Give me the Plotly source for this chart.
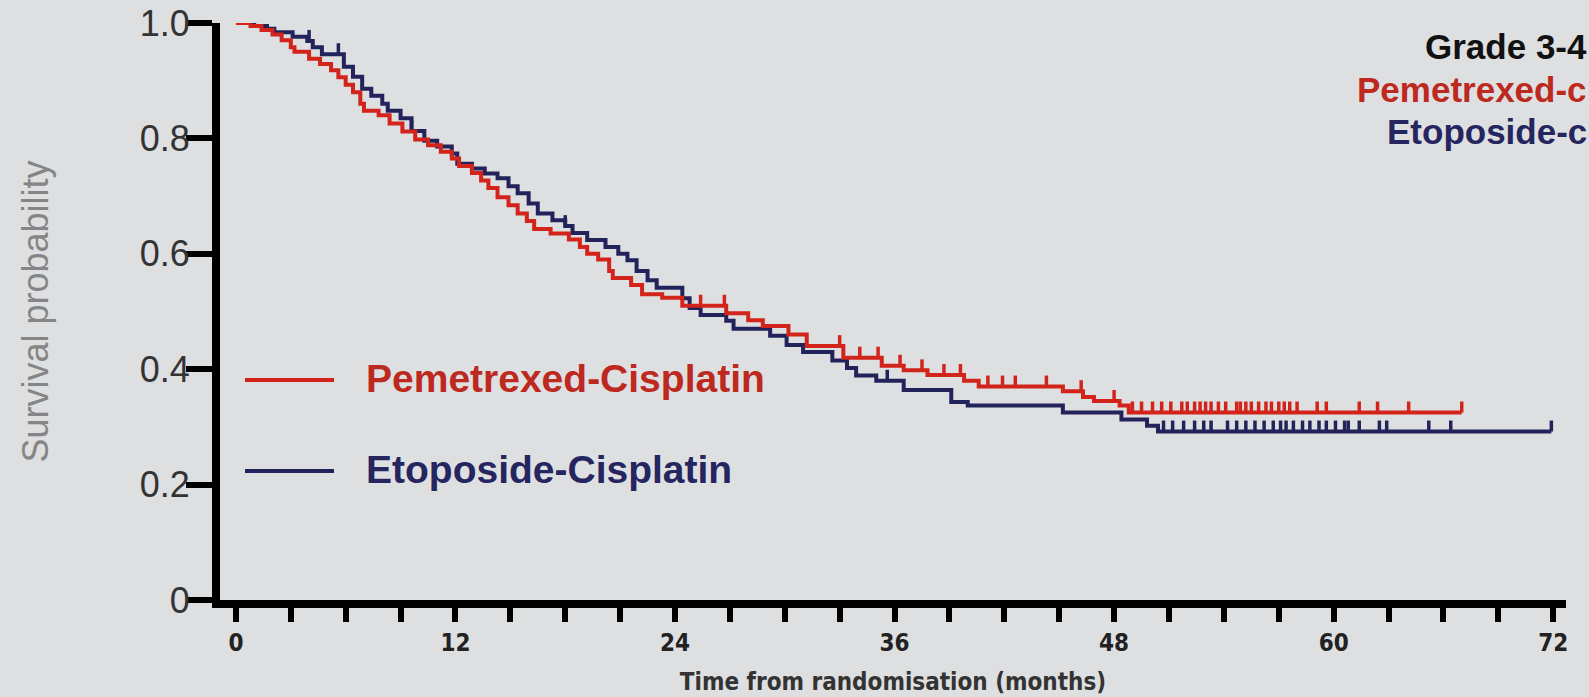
import plotly.graph_objects as go

# ---------------- data ----------------
pem_times = [0, 0.8, 1.4, 2.0, 2.5, 3.0, 3.2, 4.0, 4.6, 5.2, 5.6, 6.0, 6.4, 6.8, 7.0, 7.8, 8.4, 9.1, 9.8,
             10.5, 11.2, 11.8, 12.2, 12.9, 13.4, 13.8, 14.3, 14.9, 15.4, 15.9, 16.3, 17.2, 18.2, 18.8, 19.2,
             19.8, 20.4, 20.6, 21.6, 22.2, 23.3, 24.4, 26.8, 28.0, 28.8, 30.2, 31.2, 33.2, 35.3, 36.5, 37.8,
             39.8, 40.6, 45.2, 46.3, 46.9, 48.3, 48.8]
pem_surv = [1.0, 0.995, 0.988, 0.980, 0.970, 0.958, 0.950, 0.938, 0.929, 0.918, 0.906, 0.893, 0.880, 0.860,
            0.848, 0.840, 0.826, 0.812, 0.798, 0.788, 0.777, 0.765, 0.752, 0.740, 0.727, 0.714, 0.698, 0.684,
            0.670, 0.657, 0.643, 0.635, 0.625, 0.612, 0.600, 0.590, 0.570, 0.558, 0.546, 0.530, 0.524, 0.510,
            0.497, 0.485, 0.475, 0.460, 0.440, 0.420, 0.406, 0.398, 0.390, 0.380, 0.370, 0.362, 0.352, 0.345,
            0.337, 0.325]
pem_end = 67.0
pem_censor = [25.4, 26.7, 33.0, 34.1, 35.1, 36.3, 37.5, 38.7, 39.6, 41.1, 41.9, 42.6, 44.3, 46.2, 48.0,
              49.0, 49.5, 50.1, 50.6, 51.1, 51.7, 52.0, 52.4, 52.7, 53.0, 53.3, 53.7, 54.1, 54.7, 54.9, 55.2,
              55.5, 55.9, 56.3, 56.6, 57.0, 57.3, 57.6, 58.0, 59.1, 59.6, 61.4, 62.4, 64.1, 67.0]

eto_times = [0, 1.0, 1.7, 2.1, 3.1, 3.9, 4.2, 4.7, 5.9, 6.4, 6.9, 7.4, 8.0, 8.3, 9.0, 9.6, 10.3, 11.0, 11.8,
             12.1, 12.9, 13.6, 14.3, 14.9, 15.4, 16.0, 16.5, 17.3, 18.0, 18.4, 19.2, 20.2, 20.9, 21.4, 21.9,
             22.5, 23.0, 24.4, 24.8, 25.4, 26.8, 27.2, 29.2, 30.1, 31.0, 32.6, 33.4, 33.9, 35.0, 36.5, 39.1,
             40.0, 45.2, 48.4, 49.8, 50.4]
eto_surv = [1.0, 0.995, 0.990, 0.984, 0.976, 0.969, 0.958, 0.946, 0.924, 0.907, 0.886, 0.874, 0.860, 0.848,
            0.835, 0.813, 0.796, 0.786, 0.774, 0.756, 0.748, 0.739, 0.731, 0.717, 0.705, 0.687, 0.670, 0.658,
            0.648, 0.636, 0.624, 0.612, 0.600, 0.589, 0.570, 0.554, 0.541, 0.523, 0.506, 0.494, 0.484, 0.470,
            0.458, 0.442, 0.430, 0.415, 0.402, 0.389, 0.380, 0.364, 0.343, 0.337, 0.325, 0.313, 0.302, 0.292]
eto_end = 71.9
eto_censor = [0.1, 0.5, 4.0, 5.6, 9.6, 18.0, 35.6, 50.7, 51.2, 51.8, 52.4, 52.9, 53.3, 54.2, 54.7, 55.2,
              55.7, 56.2, 56.7, 57.1, 57.4, 57.8, 58.3, 58.7, 59.2, 59.6, 60.1, 60.6, 60.8, 61.4, 62.5, 62.9,
              65.2, 66.4, 71.9]

x_tick_vals = list(range(0, 73, 3))
x_tick_labels = ["0", "12", "24", "36", "48", "60", "72"]
y_tick_vals = [0, 0.2, 0.4, 0.6, 0.8, 1.0]
y_tick_labels = ["0", "0.2", "0.4", "0.6", "0.8", "1.0"]

series_names = ["Pemetrexed-Cisplatin", "Etoposide-Cisplatin"]
header_lines = ["Grade 3-4", "Pemetrexed-c", "Etoposide-c"]

# ---------------- style ----------------
RED = "#d2241b"
BLUE = "#23235c"
RED_TXT = "#bd291f"
BLUE_TXT = "#25255f"
BG = "#dedfe1"
CENSOR_H = 0.019
NARROW = "Liberation Sans Narrow, DejaVu Sans Condensed, Liberation Sans, Arial"


def surv_at(times, surv, t):
    s = surv[0]
    for ti, si in zip(times, surv):
        if ti <= t:
            s = si
    return s


def censor_xy(times, surv, cens):
    xs, ys = [], []
    for c in cens:
        s = surv_at(times, surv, c)
        xs += [c, c, None]
        ys += [s, s + CENSOR_H, None]
    return xs, ys


fig = go.Figure()

for times, surv, end, cens, color, name in [
    (eto_times, eto_surv, eto_end, eto_censor, BLUE, series_names[1]),
    (pem_times, pem_surv, pem_end, pem_censor, RED, series_names[0]),
]:
    fig.add_trace(go.Scatter(
        x=times + [end], y=surv + [surv[-1]], mode="lines", line=dict(color=color, width=4, shape="hv"),
        name=name, showlegend=False, hoverinfo="skip"))
    cx, cy = censor_xy(times, surv, cens)
    fig.add_trace(go.Scatter(x=cx, y=cy, mode="lines", line=dict(color=color, width=3.5),
                             showlegend=False, hoverinfo="skip"))

L, R, T, B = 220, 23, 23, 97
W, H = 1589, 697
pw, ph = W - L - R, H - T - B


def px_x(px):
    return (px - L) / pw


def px_y(py):
    return (H - B - py) / ph


annotations = []
# in-plot legend
for name, ypx, lc, tc in [(series_names[0], 380, RED, RED_TXT), (series_names[1], 471, BLUE, BLUE_TXT)]:
    fig.add_shape(type="line", xref="paper", yref="paper", x0=px_x(245), x1=px_x(334), y0=px_y(ypx),
                  y1=px_y(ypx), line=dict(color=lc, width=4))
    annotations.append(dict(text=name, xref="paper", yref="paper", x=px_x(364), y=px_y(ypx - 2),
                            xanchor="left", yanchor="middle", showarrow=False,
                            font=dict(family="Liberation Sans, Arial", size=39, color=tc, weight="bold")))

for txt, ypx, col in zip(header_lines, [47, 89, 132], ["#111111", RED_TXT, BLUE_TXT]):
    annotations.append(dict(text=txt, xref="paper", yref="paper", x=px_x(1589), y=px_y(ypx), xanchor="right",
                            yanchor="middle", showarrow=False,
                            font=dict(family="Liberation Sans, Arial", size=35, color=col, weight="bold")))

fig.update_layout(
    width=W, height=H,
    margin=dict(l=L, r=R, t=T, b=B, pad=0, autoexpand=False),
    paper_bgcolor=BG, plot_bgcolor=BG,
    annotations=annotations,
    showlegend=False,
    xaxis=dict(
        range=[-0.87, 72.7], showgrid=False, zeroline=False, automargin=False,
        showline=True, linecolor="black", linewidth=8,
        tickmode="array", tickvals=x_tick_vals,
        ticktext=[str(v) if str(v) in x_tick_labels else "" for v in x_tick_vals],
        ticks="outside", ticklen=14, tickwidth=6, tickcolor="black",
        tickfont=dict(family=NARROW, size=24, color="#222222", weight="bold"),
        title=dict(text="Time from randomisation (months)", standoff=20,
                   font=dict(family=NARROW, size=24, color="#333333", weight="bold")),
    ),
    yaxis=dict(
        range=[0, 1.0], showgrid=False, zeroline=False, automargin=False,
        showline=True, linecolor="black", linewidth=8,
        tickmode="array", tickvals=y_tick_vals, ticktext=y_tick_labels,
        ticks="outside", ticklen=26, tickwidth=6, tickcolor="black",
        ticklabelstandoff=-11,
        tickfont=dict(family="Liberation Sans, Arial", size=36, color="#333333"),
        title=dict(text="Survival probability", standoff=83,
                   font=dict(family="Liberation Sans, Arial", size=36, color="#858585")),
    ),
)

fig.write_html("out.html")
